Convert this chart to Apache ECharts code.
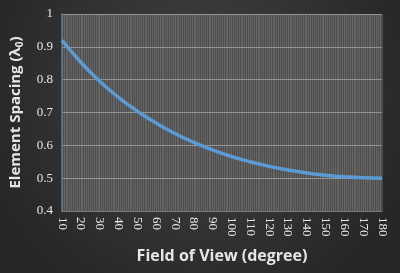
<!DOCTYPE html>
<html>
<head>
<meta charset="utf-8">
<script src="https://cdn.jsdelivr.net/npm/echarts@6/dist/echarts.min.js"></script>
<style>html,body{margin:0;padding:0;background:#2b2b2b}#c{width:400px;height:273px}</style>
</head>
<body>
<div id="c"></div>
<script>
var fieldOfView = [10, 20, 30, 40, 50, 60, 70, 80, 90, 100, 110, 120, 130, 140, 150, 160, 170, 180];
var elementSpacing = [0.920, 0.853, 0.795, 0.746, 0.704, 0.668, 0.636, 0.609, 0.586, 0.566, 0.550, 0.536, 0.525, 0.516, 0.509, 0.504, 0.501, 0.500];
var yTicks = [0.4, 0.5, 0.6, 0.7, 0.8, 0.9, 1];

var chart = echarts.init(document.getElementById('c'), null, {renderer: 'canvas'});
var fontTick = '"Liberation Serif", "DejaVu Serif", serif';
var fontTitle = '"Open Sans", "Lato", sans-serif';
chart.setOption({
  animation: false,
  backgroundColor: {
    type: 'radial', x: 0.5, y: 0.35, r: 0.8,
    colorStops: [{offset: 0, color: '#444444'}, {offset: 1, color: '#272727'}]
  },
  grid: {left: 62, right: 18, top: 14, bottom: 62, show: true, backgroundColor: '#4e4e4e', borderWidth: 0},
  xAxis: {
    type: 'value', min: 10, max: 180, interval: 10,
    name: 'Field of View (degree)', nameLocation: 'middle', nameGap: 37,
    nameTextStyle: {color: '#e6e6e6', fontFamily: fontTitle, fontWeight: 'bold', fontSize: 16},
    axisLine: {show: true, lineStyle: {color: '#7a7a7a', width: 1}},
    axisTick: {show: false},
    axisLabel: {
      rotate: -90, color: '#e6e6e6', fontFamily: fontTick, fontSize: 13, margin: 6,
      formatter: function (v) { return fieldOfView.indexOf(v) >= 0 ? String(v) : ''; }
    },
    splitLine: {show: true, lineStyle: {color: 'rgba(255,255,255,0.15)', width: 1}},
    minorTick: {show: false, splitNumber: 10},
    minorSplitLine: {show: true, lineStyle: {color: 'rgba(255,255,255,0.13)', width: 1}}
  },
  yAxis: {
    type: 'value', min: 0.4, max: 1, interval: 0.1,
    name: 'Element Spacing (λ{sub|0})', nameLocation: 'middle', nameGap: 37, nameRotate: 90,
    nameTextStyle: {color: '#e6e6e6', fontFamily: fontTitle, fontWeight: 'bold', fontSize: 15,
      rich: {sub: {fontFamily: fontTitle, fontWeight: 'bold', fontSize: 10, color: '#e6e6e6', verticalAlign: 'bottom', padding: [8, 0, 0, 0]}}},
    axisLine: {show: true, lineStyle: {color: '#667a8c', width: 1.5}},
    axisTick: {show: false},
    axisLabel: {
      color: '#e6e6e6', fontFamily: fontTick, fontSize: 13, margin: 9,
      formatter: function (v) { var r = Math.round(v * 10) / 10; return yTicks.indexOf(r) >= 0 ? String(r) : ''; }
    },
    splitLine: {show: true, lineStyle: {color: '#8c8c8c', width: 1}}
  },
  series: [{
    type: 'line', smooth: true, showSymbol: false,
    data: fieldOfView.map(function (x, i) { return [x, elementSpacing[i]]; }),
    lineStyle: {color: '#5b9bd5', width: 3.5}
  }]
});
</script>
</body>
</html>
